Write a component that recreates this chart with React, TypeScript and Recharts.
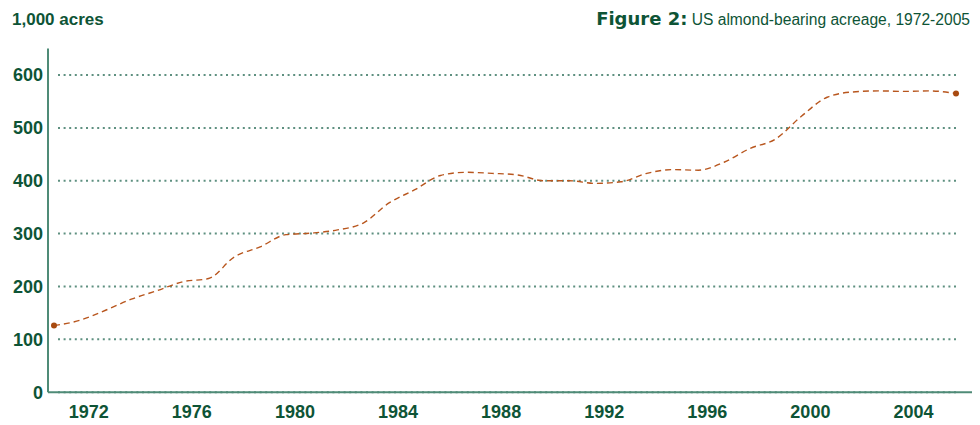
import React from "react";
import { LineChart, Line, XAxis, YAxis, CartesianGrid } from "recharts";

const years = [
  1971, 1972, 1973, 1974, 1975, 1976, 1977, 1978, 1979, 1980, 1981, 1982,
  1983, 1984, 1985, 1986, 1987, 1988, 1989, 1990, 1991, 1992, 1993, 1994,
  1995, 1996, 1997, 1998, 1999, 2000, 2001, 2002, 2003, 2004, 2005, 2006,
];
const acres = [
  126, 136, 155, 176, 192, 209, 215, 256, 275, 298, 301, 307, 320, 358, 383,
  410, 416, 414, 411, 400, 400, 395, 398, 414, 421, 420, 435, 461, 479, 522,
  558, 568, 570, 569, 570, 565,
];
const xTicks = [1972, 1976, 1980, 1984, 1988, 1992, 1996, 2000, 2004];
const yTicks = [0, 100, 200, 300, 400, 500, 600];

const data = years.map((year, i) => ({ year, acres: acres[i] }));

const TEXT = "#0e5436";
const AXIS = "#4f8b77";
const GRID = "#5e9080";
const LINE = "#b8561e";
const DOT = "#a84a10";

const XTick = (props: any) => {
  const { x, y, payload } = props;
  return (
    <text
      x={x + 9}
      y={y}
      dy="0.71em"
      textAnchor="middle"
      fill={TEXT}
      fontFamily="'Liberation Sans', Arial, sans-serif"
      fontWeight="bold"
      fontSize={18}
    >
      {payload.value}
    </text>
  );
};

const GridLine = (p: any) => {
  const k = p.key ?? `g-${p.index}`;
  if (typeof p.y === "number" && p.y1 <= p.y + 1) return <g key={k} />;
  return (
    <line
      key={k}
      x1={p.x1 + 10}
      x2={p.x2 - 14}
      y1={p.y1}
      y2={p.y2}
      stroke={GRID}
      strokeWidth={2}
      strokeDasharray="2 3.6"
    />
  );
};

const EndDot = (props: any) => {
  const { cx, cy, index } = props;
  if (index !== 0 && index !== data.length - 1) return <g key={`d-${index}`} />;
  return <circle key={`d-${index}`} cx={cx} cy={cy} r={3} fill={DOT} />;
};

export default function App() {
  return (
    <div style={{ position: "absolute", left: 0, top: 0, width: 980, height: 425, background: "#fff" }}>
      <LineChart
        width={980}
        height={425}
        data={data}
        margin={{ top: 48.6, right: 8, bottom: 0, left: 0 }}
      >
        <CartesianGrid vertical={false} horizontal={GridLine} />
        <XAxis
          dataKey="year"
          type="number"
          domain={[1970.767, 2006.62]}
          ticks={xTicks}
          height={32.8}
          tickLine={false}
          tickSize={0}
          tickMargin={13.5}
          axisLine={{ stroke: AXIS, strokeWidth: 2 }}
          tick={<XTick />}
          interval={0}
        />
        <YAxis
          type="number"
          domain={[0, 650]}
          ticks={yTicks}
          width={48}
          tickLine={false}
          tickSize={0}
          tickMargin={5}
          axisLine={{ stroke: AXIS, strokeWidth: 2 }}
          tick={{
            fill: TEXT,
            fontSize: 18,
            fontWeight: "bold",
            fontFamily: "'Liberation Sans', Arial, sans-serif",
          }}
          interval={0}
        />
        <Line
          type="monotone"
          dataKey="acres"
          stroke={LINE}
          strokeWidth={1.4}
          strokeDasharray="6 4"
          dot={EndDot}
          activeDot={false}
          isAnimationActive={false}
        />
      </LineChart>
      <svg
        width={980}
        height={40}
        style={{ position: "absolute", left: 0, top: 0, pointerEvents: "none" }}
      >
        <text
          x={12}
          y={24.5}
          fill={TEXT}
          fontFamily="'Liberation Sans', Arial, sans-serif"
          fontWeight="bold"
          fontSize={17}
        >
          1,000 acres
        </text>
        <text x={970} y={25} textAnchor="end" fill={TEXT}>
          <tspan fontFamily="'DejaVu Sans', sans-serif" fontWeight="bold" fontSize={18}>
            Figure 2:
          </tspan>
          <tspan fontFamily="'Liberation Sans', Arial, sans-serif" fontSize={15.6}>
            {" US almond-bearing acreage, 1972-2005"}
          </tspan>
        </text>
      </svg>
    </div>
  );
}
